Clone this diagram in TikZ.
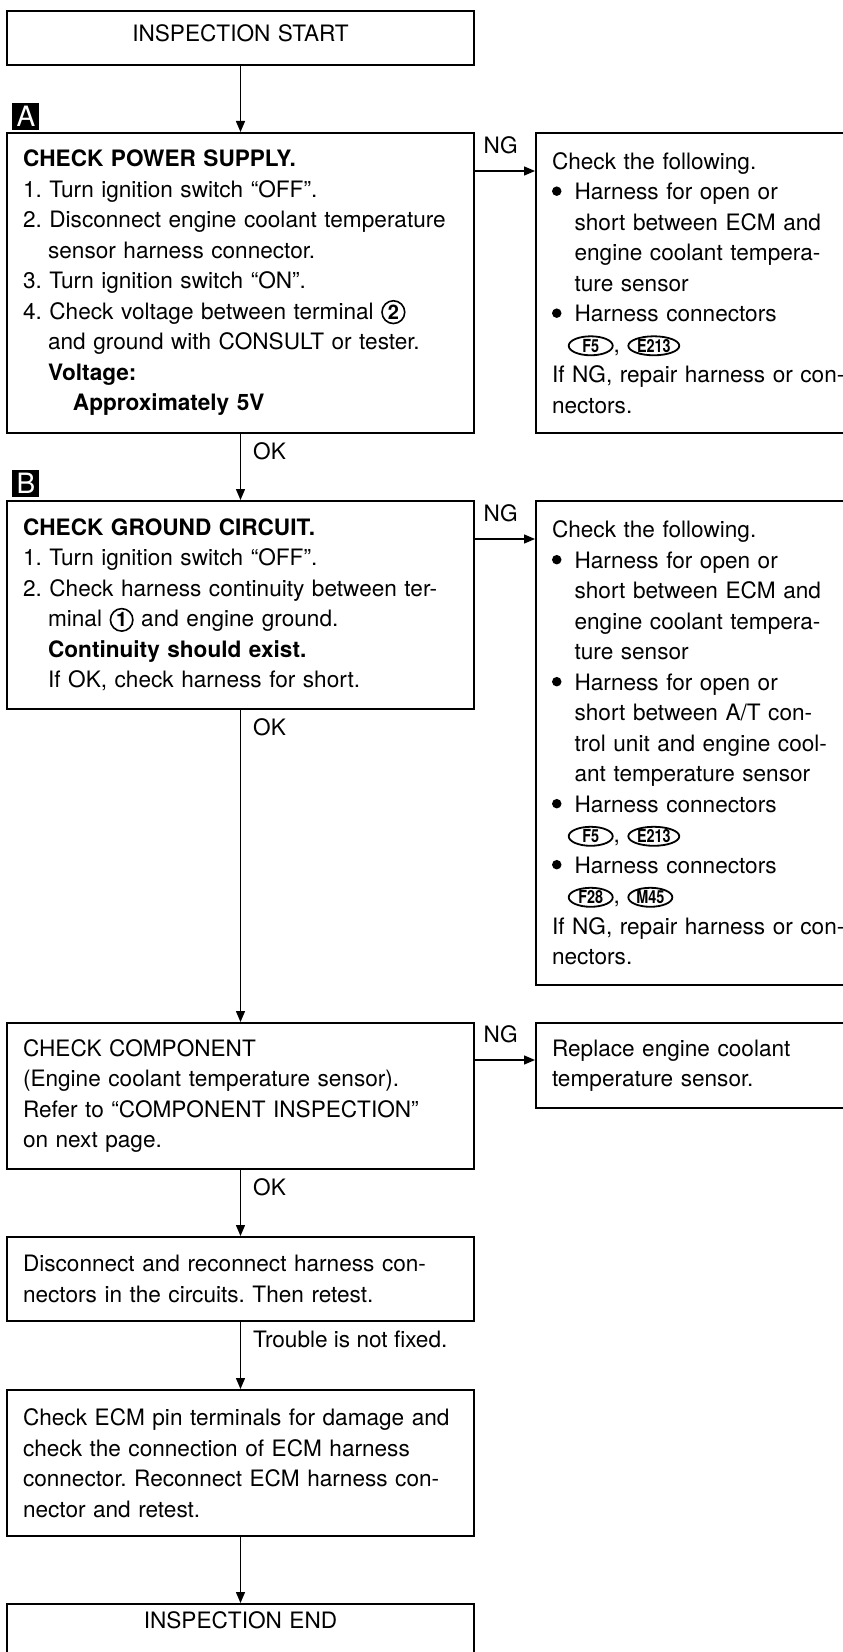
\documentclass[tikz,border=0pt]{standalone}
\usepackage{fontspec}
\usepackage{graphicx}
\setmainfont{TeX Gyre Heros}
\usetikzlibrary{arrows.meta,shapes.geometric,positioning}
\frenchspacing

\newcommand{\ind}{\hspace*{1.11em}}
\newcommand{\bind}{\hspace*{1em}}
\newcommand{\bul}{\makebox[1em][l]{\tikz[baseline=0pt]\fill (0.21em,0.38em) circle (0.21em);}}
\newcommand{\term}[1]{\tikz[baseline=(tm.base)]\node[draw,circle,line width=0.8pt,inner sep=0.8pt,minimum size=0pt,text width={},align=center,font=\fontsize{10}{10}\selectfont\bfseries](tm){#1};}
\newcommand{\conn}[1]{\tikz[baseline=(cn.base)]\node[draw,ellipse,line width=0.9pt,inner xsep=0.6pt,inner ysep=0pt,minimum width=22pt,minimum height=9.5pt,text width={},align=center,font=\fontsize{9}{9}\selectfont\bfseries](cn){\scalebox{0.8}[1]{#1}};}

\begin{document}
\begin{tikzpicture}[x=0.5pt,y=-0.5pt,
    every node/.style={font=\fontsize{11.3}{15.25}\selectfont},
    box/.style={draw,line width=1pt,anchor=north west,inner xsep=8pt,inner ysep=0pt,align=left},
    leftbox/.style={box,text width=217.5pt,minimum width=233.5pt},
    rightbox/.style={box,text width=164pt,minimum width=180pt},
    flow/.style={line width=0.7pt,-{Triangle[length=5.5pt,width=4.5pt]}},
    lbl/.style={inner sep=0pt},
    tag/.style={fill=black,text=white,minimum size=13.5pt,inner sep=0pt,anchor=south west,font=\fontsize{14}{14}\selectfont}]
    \useasboundingbox (0,0) rectangle (842,1652);

    % left column
    \node[leftbox,align=center,text height=15.25pt,text depth=11.75pt] (start) at (6,10) {INSPECTION START};
    \node[leftbox,minimum height=150pt] (pwr) at (6,132) {\textbf{CHECK POWER SUPPLY.}\\
        1. Turn ignition switch “OFF”.\\
        2. Disconnect engine coolant temperature\\
        \ind sensor harness connector.\\
        3. Turn ignition switch “ON”.\\
        4. Check voltage between terminal \term{2}\\
        \ind and ground with CONSULT or tester.\\
        \ind\textbf{Voltage:}\\
        \ind\hspace*{1.1em}\textbf{Approximately 5V}};
    \node[tag] (tagA) at ([xshift=3pt,yshift=1pt]pwr.north west) {A};
    \node[leftbox,minimum height=104pt] (gnd) at (6,500) {\textbf{CHECK GROUND CIRCUIT.}\\
        1. Turn ignition switch “OFF”.\\
        2. Check harness continuity between ter-\\
        \ind minal \term{1} and engine ground.\\
        \ind\textbf{Continuity should exist.}\\
        \ind If OK, check harness for short.};
    \node[tag] (tagB) at ([xshift=3pt,yshift=1.5pt]gnd.north west) {B};
    \node[leftbox,minimum height=73pt] (comp) at (6,1022) {CHECK COMPONENT\\
        (Engine coolant temperature sensor).\\
        Refer to “COMPONENT INSPECTION”\\
        on next page.};
    \node[leftbox,minimum height=42pt] (recon) at (6,1236) {Disconnect and reconnect harness con-\\
        nectors in the circuits. Then retest.};
    \node[leftbox,minimum height=73pt] (ecm) at (6,1389) {Check ECM pin terminals for damage and\\
        check the connection of ECM harness\\
        connector. Reconnect ECM harness con-\\
        nector and retest.};
    \node[leftbox,align=center,text height=12pt,text depth=20pt] (finish) at (6,1603) {INSPECTION END};

    % right column
    \node[rightbox,minimum height=150pt] (pwrng) at (535,132) {Check the following.\\
        \bul Harness for open or\\
        \bind short between ECM and\\
        \bind engine coolant tempera-\\
        \bind ture sensor\\
        \bul Harness connectors\\
        \hspace*{0.7em}\conn{F5}, \conn{E213}\\
        If NG, repair harness or con-\\
        nectors.};
    \node[rightbox,minimum height=242pt] (gndng) at (535,500) {Check the following.\\
        \bul Harness for open or\\
        \bind short between ECM and\\
        \bind engine coolant tempera-\\
        \bind ture sensor\\
        \bul Harness for open or\\
        \bind short between A/T con-\\
        \bind trol unit and engine cool-\\
        \bind ant temperature sensor\\
        \bul Harness connectors\\
        \hspace*{0.7em}\conn{F5}, \conn{E213}\\
        \bul Harness connectors\\
        \hspace*{0.7em}\conn{F28}, \conn{M45}\\
        If NG, repair harness or con-\\
        nectors.};
    \node[rightbox,minimum height=42.5pt] (compng) at (535,1022) {Replace engine coolant\\
        temperature sensor.};

    % OK path
    \draw[flow] (start.south) -- (pwr.north);
    \draw[flow] (pwr.south) -- (gnd.north) node[pos=0,lbl,anchor=north west,xshift=6pt,yshift=-4pt] {OK};
    \draw[flow] (gnd.south) -- (comp.north) node[pos=0,lbl,anchor=north west,xshift=6pt,yshift=-4pt] {OK};
    \draw[flow] (comp.south) -- (recon.north) node[pos=0,lbl,anchor=north west,xshift=6pt,yshift=-4pt] {OK};
    \draw[flow] (recon.south) -- (ecm.north) node[pos=0,lbl,anchor=north west,xshift=6pt,yshift=-4pt] {Trouble is not fixed.};
    \draw[flow] (ecm.south) -- (finish.north);

    % NG branches
    \coordinate (ngA) at ([yshift=-19.5pt]pwr.north east);
    \coordinate (ngB) at ([yshift=-19.5pt]gnd.north east);
    \coordinate (ngC) at ([yshift=-19pt]comp.north east);
    \draw[flow] (ngA) -- (ngA -| pwrng.west) node[pos=0,lbl,anchor=south west,xshift=4pt,yshift=8pt] {NG};
    \draw[flow] (ngB) -- (ngB -| gndng.west) node[pos=0,lbl,anchor=south west,xshift=4pt,yshift=8pt] {NG};
    \draw[flow] (ngC) -- (ngC -| compng.west) node[pos=0,lbl,anchor=south west,xshift=4pt,yshift=8pt] {NG};
\end{tikzpicture}
\end{document}
